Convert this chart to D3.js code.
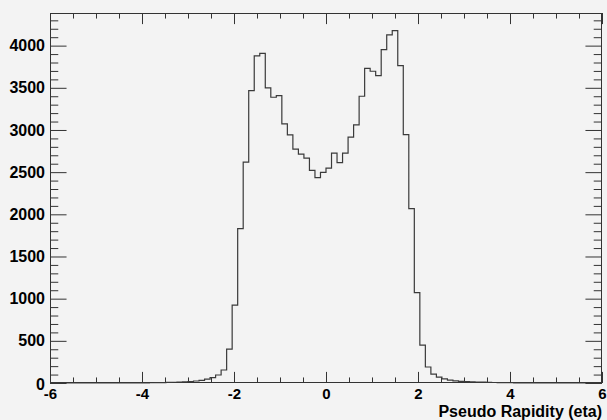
<!DOCTYPE html>
<html>
<head>
<meta charset="utf-8">
<script src="https://cdn.jsdelivr.net/npm/d3@7"></script>
<style>
  html, body { margin: 0; padding: 0; background: #f3f3f3; }
  svg { display: block; }
  text { font-family: "Liberation Sans", Arial, sans-serif; font-weight: bold; fill: #000; }
</style>
</head>
<body>
<svg id="chart" width="607" height="420"></svg>
<script>
// histogram: 100 bins from -6 to 6
var binLow = -6;
var binHigh = 6;
var counts = [
    0, 0, 0, 0, 0, 0, 0, 0, 0, 0,
    0, 0, 0, 1, 1, 1, 2, 2, 3, 4,
    5, 7, 9, 11, 14, 18, 24, 32, 47, 63,
    95, 154, 402, 923, 1831, 2619, 3467, 3878, 3909, 3499,
    3388, 3408, 3073, 2943, 2773, 2714, 2666, 2521, 2434, 2497,
    2548, 2725, 2612, 2725, 2915, 3061, 3400, 3731, 3696, 3645,
    3953, 4127, 4178, 3763, 2945, 2067, 1071, 450, 190, 106,
    70, 50, 35, 26, 20, 17, 14, 12, 10, 8,
    6, 5, 4, 3, 2, 2, 1, 1, 0, 0,
    0, 0, 0, 0, 0, 0, 0, 0, 0, 0
];
var xMajor = [-6, -4, -2, 0, 2, 4, 6];
var yMajor = [0, 500, 1000, 1500, 2000, 2500, 3000, 3500, 4000];
var xTitle = "Pseudo Rapidity (eta)";

var Frame = { left: 50, right: 602, top: 13, bottom: 383 };
var W = Frame.right - Frame.left;
var H = Frame.bottom - Frame.top;

var svg = d3.select("#chart");

var x = d3.scaleLinear().domain([binLow, binHigh]).range([Frame.left, Frame.right]);
// root puts 5% headroom above the max bin
var yMax = d3.max(counts) * 1.05;
var y = d3.scaleLinear().domain([0, yMax]).range([Frame.bottom, Frame.top]);

var xMinor = d3.range(binLow, binHigh + 0.001, 0.5).filter(v => xMajor.indexOf(v) < 0);
var yMinor = d3.range(0, yMax, 100).filter(v => v % 500 != 0);

// tick lengths follow the other axis, like root does
var xTickLen = 0.03 * H;
var yTickLen = 0.03 * W;

// plain hyphen for negatives, not the unicode minus
var plain = d => String(d);

function axisGroup(axis, tx, ty) {
    let g = svg.append("g")
        .attr("transform", `translate(${tx},${ty})`)
        .call(axis);
    g.select(".domain").remove();
    g.selectAll("line").attr("stroke", "#333").attr("stroke-width", 1);
    return g;
}

// bottom
let bx = axisGroup(d3.axisBottom(x).tickValues(xMajor).tickSize(-xTickLen).tickFormat(plain), 0, Frame.bottom);
bx.selectAll("text").attr("font-size", 15).attr("dy", "0.71em").attr("y", 5);
axisGroup(d3.axisBottom(x).tickValues(xMinor).tickSize(-xTickLen / 2).tickFormat(""), 0, Frame.bottom);
// top
axisGroup(d3.axisTop(x).tickValues(xMajor).tickSize(-xTickLen).tickFormat(""), 0, Frame.top);
axisGroup(d3.axisTop(x).tickValues(xMinor).tickSize(-xTickLen / 2).tickFormat(""), 0, Frame.top);
// left
let ly = axisGroup(d3.axisLeft(y).tickValues(yMajor).tickSize(-yTickLen).tickFormat(plain), Frame.left, 0);
ly.selectAll("text").attr("font-size", 16).attr("x", -5);
axisGroup(d3.axisLeft(y).tickValues(yMinor).tickSize(-yTickLen / 2).tickFormat(""), Frame.left, 0);
// right
axisGroup(d3.axisRight(y).tickValues(yMajor).tickSize(-yTickLen).tickFormat(""), Frame.right, 0);
axisGroup(d3.axisRight(y).tickValues(yMinor).tickSize(-yTickLen / 2).tickFormat(""), Frame.right, 0);

// the "0" of the y axis sits a bit lower than its tick
ly.selectAll(".tick text").filter(d => d == 0).attr("dy", "0.38em");

// frame
svg.append("rect")
    .attr("x", Frame.left + 0.5)
    .attr("y", Frame.top + 0.5)
    .attr("width", W - 1)
    .attr("height", H - 1)
    .attr("fill", "none")
    .attr("stroke", "#333")
    .attr("stroke-width", 1);

// histogram outline as steps
let binWidth = (binHigh - binLow) / counts.length;
let pts = [[binLow, 0]];
counts.forEach((c, i) => {
    let lo = binLow + i * binWidth;
    pts.push([lo, c]);
    pts.push([lo + binWidth, c]);
});
pts.push([binHigh, 0]);

let line = d3.line()
    .x(d => x(d[0]))
    .y(d => y(d[1]));

svg.append("path")
    .datum(pts)
    .attr("d", line)
    .attr("fill", "none")
    .attr("stroke", "#3a3a3a")
    .attr("stroke-width", 1.2);

// axis title, right aligned to the end of the axis
svg.append("text")
    .attr("x", Frame.right)
    .attr("y", 416.5)
    .attr("text-anchor", "end")
    .attr("font-size", 16)
    .text(xTitle);
</script>
</body>
</html>
